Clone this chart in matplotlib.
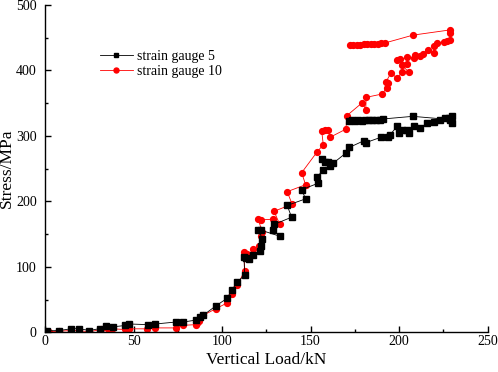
import matplotlib
matplotlib.use("Agg")
import matplotlib.pyplot as plt
from matplotlib.ticker import MultipleLocator

plt.rcParams['font.family'] = ['Liberation Serif', 'DejaVu Serif']

# strain gauge 5 (black squares), in recorded order
load5 = [1.3, 8, 14.5, 19, 25, 31, 34.4, 38.5, 45.4, 47.6, 58, 62.4, 74, 78.2, 85.4, 87.3, 89.2,
         96.7, 102.8, 105.6, 108.7, 112.8, 112.4, 113.8, 115, 117.5, 121.3, 122.2, 122.8, 120.4,
         122.2, 132.6, 128.9, 129.4, 139.3, 136.8, 147.2, 145, 154.4, 153.8, 156.8, 161, 158.2,
         156.3, 160, 162.9, 170, 171.9, 180.3, 181.4, 189.7, 193.5, 195, 198.8, 200, 201.5, 204.5,
         205.4, 208.2, 212, 215.8, 219.6, 223.4, 226, 228, 230, 230, 229,
         207.8, 191, 189, 187, 185, 183, 181, 179, 177, 175, 173.5, 172]
stress5 = [2.6, 3, 5.6, 6, 3, 6, 9.6, 8.7, 10.7, 13, 12, 13, 16, 16, 19, 23, 26,
           41, 52, 65.5, 77, 88, 115, 114, 112, 119, 124, 131.6, 143, 157,
           156, 147, 157, 165, 176, 194, 204, 218, 228, 237, 248, 253.6, 261,
           264.7, 261, 258.7, 274, 282.5, 293, 290, 298, 298, 302, 314.5, 304, 309, 309,
           304, 314.5, 312, 320, 322, 325, 327, 328, 330, 320, 325,
           330, 326, 325, 325, 324, 325, 324, 323, 324, 323, 324, 323]

# strain gauge 10 (red circles), in recorded order
load10 = [1.3, 2.3, 8, 14.6, 19, 25, 31.6, 35.3, 38, 45.4, 47.6, 57.6, 62.4, 74, 78.2, 85.4, 86,
          87, 89.2, 96.7, 102.8, 105.6, 108.7, 112.8, 112.4, 114, 115.3, 117.5, 121, 122.2, 122.8,
          120.4, 122.2, 128.9, 132.6, 129.4, 139.6, 136.8, 147.2, 145, 153.8, 157.2, 156.3, 158.2,
          160, 161, 170, 170.5, 179.3, 181.2, 181.4, 190.3, 193, 193.5, 192.7, 195.4, 199.1, 201.6,
          205.4, 201.6, 204.5, 199.1, 200.7, 204.5, 208.2, 209.2, 212, 213.5, 216.2, 219.6, 219.6,
          221.5, 225.2, 227, 229, 229, 229,
          207.9, 192, 190, 188, 186, 184, 182, 180, 178, 176, 174, 172.3]
stress10 = [0.5, 1, 2, 3, 3, 1, 4.6, 4.6, 5.6, 4.6, 5.6, 5.6, 7, 7, 11, 12, 15,
            17, 26, 36.6, 45, 59, 72, 94.5, 122.5, 120, 117, 127.5, 131.6, 147, 153,
            173, 172, 173, 165, 185, 196, 215, 225.6, 244, 276, 286.6, 308, 309,
            308.4, 298, 310.5, 331, 351, 340, 359, 364, 373, 380.6, 383, 396, 388, 398,
            398, 408, 410, 416, 417, 420, 419, 424, 422, 425, 431, 426, 437,
            441.5, 444, 445, 446.6, 457, 462,
            454, 442, 442, 441, 441, 440, 440, 440, 439, 439, 439, 439]

fig = plt.figure(figsize=(4.98, 3.72), dpi=100)
ax = fig.add_axes([0.0904, 0.1062, 0.8886, 0.8804])

ax.plot(load5, stress5, color='black', lw=0.6, marker='s', ms=3.8, mec='black', mfc='black',
        label='strain gauge 5', zorder=3)
ax.plot(load10, stress10, color='red', lw=0.6, marker='o', ms=4.2, mec='red', mfc='red',
        label='strain gauge 10', zorder=2)

ax.set_xlim(0, 250)
ax.set_ylim(0, 500)
ax.xaxis.set_major_locator(MultipleLocator(50))
ax.xaxis.set_minor_locator(MultipleLocator(25))
ax.yaxis.set_major_locator(MultipleLocator(100))
ax.yaxis.set_minor_locator(MultipleLocator(50))

for s in ['top', 'right']:
    ax.spines[s].set_visible(False)
for s in ['left', 'bottom']:
    ax.spines[s].set_linewidth(1.0)

ax.tick_params(which='major', direction='in', length=4, width=1.0, labelsize=10)
ax.tick_params(which='minor', direction='in', length=2.5, width=1.0)
ax.tick_params(axis='x', which='major', pad=2)
ax.tick_params(axis='y', which='major', pad=6)

ax.set_xlabel('Vertical Load/kN', fontsize=12.5, labelpad=3)
ax.set_ylabel('Stress/MPa', fontsize=12.5, labelpad=0.5)

ax.legend(loc='upper left', bbox_to_anchor=(0.095, 0.90), frameon=False, fontsize=10,
          handlelength=2.4, handletextpad=0.3, labelspacing=0.12, markerscale=0.85)

fig.savefig('out.png', dpi=100)
